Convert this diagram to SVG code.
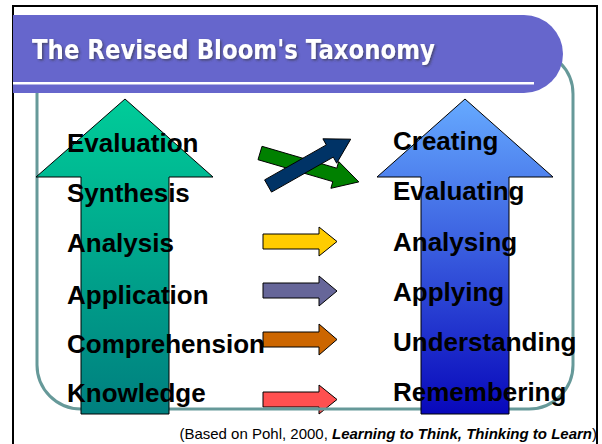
<svg xmlns="http://www.w3.org/2000/svg" width="602" height="444" viewBox="0 0 602 444">
<defs>
<linearGradient id="gGreen" x1="0" y1="0" x2="0" y2="1">
<stop offset="0" stop-color="#00CC99"/>
<stop offset="1" stop-color="#007F7F"/>
</linearGradient>
<linearGradient id="gBlue" x1="0" y1="0" x2="0" y2="1">
<stop offset="0" stop-color="#66AAFF"/>
<stop offset="1" stop-color="#0808BB"/>
</linearGradient>
<filter id="shadow" x="-5%" y="-30%" width="110%" height="160%">
<feDropShadow dx="1.5" dy="1.5" stdDeviation="0.8" flood-color="#333" flood-opacity="0.6"/>
</filter>
<style>
.lbl{font-family:"Liberation Sans",Arial,sans-serif;font-weight:bold;font-size:26px;fill:#000}
.arr{stroke:#000;stroke-width:1}
.title{font-family:"DejaVu Sans","Liberation Sans",sans-serif;font-weight:bold;font-size:26px;fill:#fff}
.foot{font-family:"Liberation Sans",Arial,sans-serif;font-size:15px;fill:#000}
</style>
</defs>
<rect width="602" height="444" fill="#fff"/>
<path d="M13 444 V6 H597 V444" fill="none" stroke="#000" stroke-width="2"/>

<g id="small-arrows">
<polygon id="arrow-yellow" class="arr" fill="#FFCC00" points="263,234 319,234 319,227 337,241.5 319,256 319,249 263,249"/>
<polygon id="arrow-purple" class="arr" fill="#666699" points="263,283 319,283 319,276 337,291 319,306 319,298 263,298"/>
<polygon id="arrow-orange" class="arr" fill="#CC6600" points="263,332 319,332 319,324 337,339.5 319,355 319,347 263,347"/>
<polygon id="arrow-red" class="arr" fill="#FF5050" points="263,392 319,392 319,385 337,399.5 319,414 319,407 263,407"/>
</g>

<rect id="frame" x="37" y="50" width="536" height="359" rx="44" ry="44" fill="none" stroke="#669999" stroke-width="3"/>

<g id="title-bar">
<path d="M13 15 H524 A39 39 0 0 1 524 93 H13 Z" fill="#6666CC"/>
<rect x="13" y="82" width="521" height="2.5" fill="#fff"/>
<text class="title" x="32" y="59" filter="url(#shadow)" textLength="403" lengthAdjust="spacingAndGlyphs">The Revised Bloom's Taxonomy</text>
</g>

<g id="arrow-old">
<polygon class="arr" fill="url(#gGreen)" points="125,99 213,177 169,177 169,414 81,414 81,177 36,177"/>
</g>
<g id="arrow-new">
<polygon class="arr" fill="url(#gBlue)" points="465,99 553,177 509,177 509,414 421,414 421,177 377,177"/>
</g>

<g id="cross-arrows">
<polygon id="arrow-green" class="arr" fill="#008000" points="262,146.3 336.8,168.2 338.7,161.5 358.8,181.9 330.9,188.3 332.8,181.6 258,159.7"/>
<polygon id="arrow-navy" class="arr" fill="#003366" points="264.6,179.9 326.3,144.9 322.9,138.8 350.7,139.2 336.7,163.2 333.3,157.1 271.5,192.1"/>
</g>

<g id="old-labels">
<text class="lbl" x="67" y="152">Evaluation</text>
<text class="lbl" x="67" y="202">Synthesis</text>
<text class="lbl" x="67" y="252">Analysis</text>
<text class="lbl" x="67" y="304">Application</text>
<text class="lbl" x="67" y="353">Comprehension</text>
<text class="lbl" x="67" y="402">Knowledge</text>
</g>
<g id="new-labels">
<text class="lbl" x="393" y="150">Creating</text>
<text class="lbl" x="393" y="200">Evaluating</text>
<text class="lbl" x="393" y="251">Analysing</text>
<text class="lbl" x="393" y="301">Applying</text>
<text class="lbl" x="393" y="351">Understanding</text>
<text class="lbl" x="393" y="401">Remembering</text>
</g>

<text id="footer" class="foot" x="597" y="439" text-anchor="end">(Based on Pohl, 2000, <tspan font-weight="bold" font-style="italic">Learning to Think, Thinking to Learn</tspan>)</text>
</svg>
